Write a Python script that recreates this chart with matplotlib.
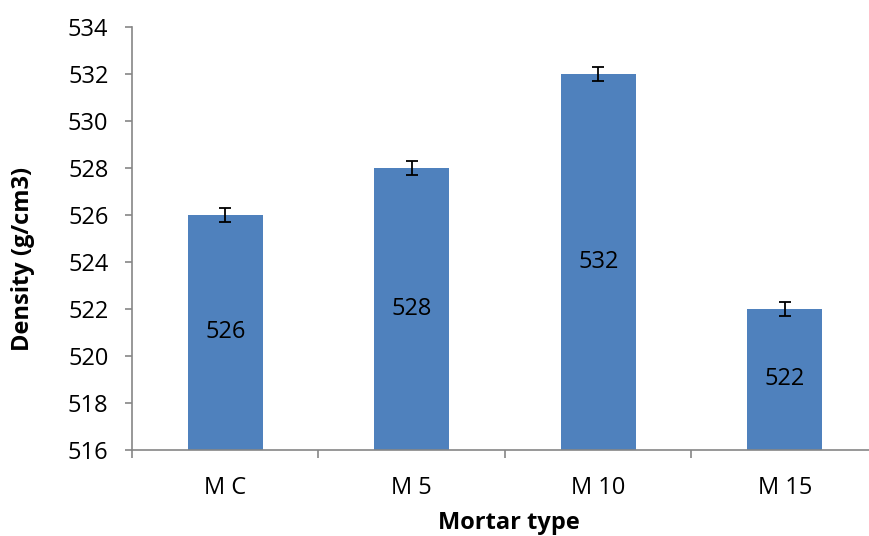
import matplotlib.pyplot as plt
import numpy as np

# data
mortar_types = ['M C', 'M 5', 'M 10', 'M 15']
density = [526, 528, 532, 522]
density_err = [0.28, 0.28, 0.28, 0.28]

bar_color = '#4F81BD'
axis_color = '#868686'

plt.rcParams['font.family'] = ['Open Sans', 'DejaVu Sans']
fs = 17

fig = plt.figure(figsize=(8.7, 5.36), dpi=100)
# plot area runs a little past the right edge, like the original
ax = fig.add_axes([132 / 870, 86 / 536, 746 / 870, 423 / 536])

x = np.arange(len(mortar_types))
ax.bar(x, density, width=0.40, color=bar_color, zorder=2)
ax.errorbar(x, density, yerr=density_err, fmt='none', ecolor='black',
            elinewidth=1.3, capsize=4.5, capthick=1.3, zorder=3)

# value labels in the middle of each bar
ymin = 516
for xi, val in zip(x, density):
    ax.text(xi, (ymin + val) / 2, str(val), ha='center', va='center', fontsize=fs)

ax.set_ylim(516, 534)
ax.set_yticks(np.arange(516, 535, 2))
ax.set_xlim(-0.5, len(mortar_types) - 0.5)
ax.set_xticks(x)
ax.set_xticklabels(mortar_types)
ax.tick_params(axis='x', length=0, labelsize=fs, pad=19)
ax.tick_params(axis='y', length=5, width=1.2, color=axis_color, labelsize=fs, pad=12)

# category boundary ticks on the x axis
ax.set_xticks(np.arange(-0.5, len(mortar_types), 1), minor=True)
ax.tick_params(axis='x', which='minor', length=6, width=1.2, color=axis_color)

for side in ['top', 'right']:
    ax.spines[side].set_visible(False)
for side in ['left', 'bottom']:
    ax.spines[side].set_color(axis_color)
    ax.spines[side].set_linewidth(1.2)

fig.text(23 / 870, 1 - 259 / 536, 'Density (g/cm3)', rotation=90,
         ha='center', va='center', fontsize=fs, fontweight='bold')
# nudged up a few pixels so the descender is not clipped
fig.text(509 / 870, 1 - 511 / 536, 'Mortar type',
         ha='center', va='top', fontsize=fs, fontweight='bold')

fig.savefig('out.png', dpi=100)
